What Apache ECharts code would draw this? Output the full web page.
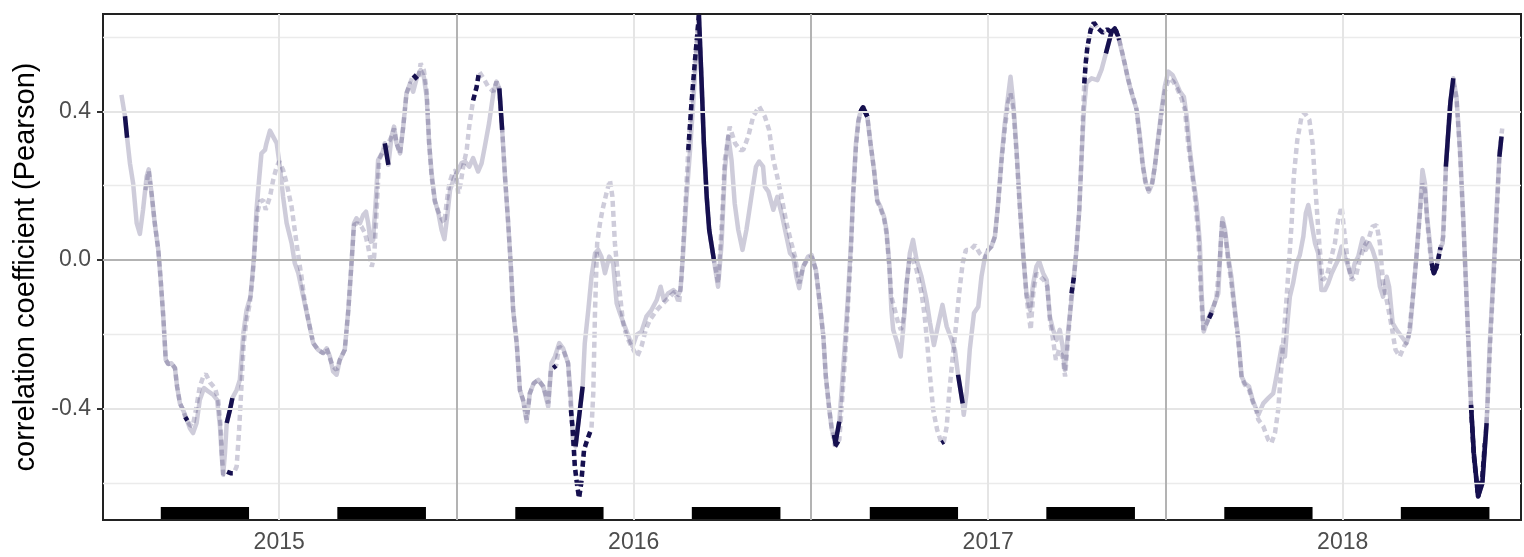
<!DOCTYPE html>
<html>
<head>
<meta charset="utf-8">
<script src="https://cdn.jsdelivr.net/npm/echarts@6/dist/echarts.min.js"></script>
<style>html,body{margin:0;padding:0;background:#fff}#chart{width:1524px;height:557px}</style>
</head>
<body>
<div id="chart"></div>
<script>
// ---- data (decimal years, Pearson r) ----
const solidT = [2014.555,2014.562,2014.565,2014.571,2014.579,2014.588,2014.598,2014.607,2014.616,2014.626,2014.632,2014.640,2014.649,2014.659,2014.665,2014.673,2014.680,2014.687,2014.696,2014.706,2014.712,2014.720,2014.729,2014.739,2014.748,2014.757,2014.767,2014.776,2014.788,2014.800,2014.814,2014.825,2014.833,2014.838,2014.842,2014.847,2014.852,2014.861,2014.868,2014.880,2014.889,2014.899,2014.908,2014.919,2014.929,2014.936,2014.944,2014.950,2014.960,2014.964,2014.974,2014.983,2014.993,2015.002,2015.011,2015.021,2015.035,2015.044,2015.054,2015.068,2015.082,2015.096,2015.110,2015.124,2015.134,2015.143,2015.152,2015.162,2015.171,2015.185,2015.195,2015.204,2015.211,2015.218,2015.228,2015.237,2015.245,2015.251,2015.258,2015.265,2015.272,2015.279,2015.292,2015.298,2015.308,2015.317,2015.324,2015.331,2015.341,2015.350,2015.359,2015.369,2015.378,2015.389,2015.399,2015.408,2015.416,2015.423,2015.430,2015.439,2015.449,2015.458,2015.466,2015.474,2015.482,2015.493,2015.505,2015.514,2015.524,2015.536,2015.547,2015.561,2015.571,2015.580,2015.592,2015.604,2015.613,2015.621,2015.629,2015.637,2015.646,2015.653,2015.660,2015.670,2015.679,2015.688,2015.698,2015.707,2015.718,2015.731,2015.745,2015.759,2015.768,2015.778,2015.790,2015.801,2015.815,2015.822,2015.829,2015.836,2015.846,2015.856,2015.862,2015.872,2015.881,2015.891,2015.900,2015.909,2015.919,2015.931,2015.942,2015.952,2015.961,2015.975,2015.989,2015.997,2016.008,2016.022,2016.036,2016.050,2016.065,2016.076,2016.085,2016.097,2016.112,2016.126,2016.132,2016.140,2016.149,2016.159,2016.168,2016.177,2016.184,2016.191,2016.198,2016.206,2016.213,2016.226,2016.232,2016.238,2016.248,2016.257,2016.267,2016.276,2016.285,2016.295,2016.307,2016.318,2016.332,2016.345,2016.354,2016.365,2016.370,2016.380,2016.394,2016.405,2016.417,2016.431,2016.441,2016.450,2016.459,2016.467,2016.478,2016.492,2016.502,2016.514,2016.525,2016.535,2016.542,2016.552,2016.559,2016.565,2016.569,2016.580,2016.586,2016.596,2016.605,2016.613,2016.619,2016.627,2016.634,2016.640,2016.647,2016.659,2016.668,2016.678,2016.687,2016.696,2016.706,2016.713,2016.721,2016.727,2016.732,2016.741,2016.753,2016.760,2016.770,2016.779,2016.788,2016.798,2016.812,2016.826,2016.836,2016.847,2016.856,2016.871,2016.883,2016.897,2016.906,2016.915,2016.928,2016.931,2016.939,2016.948,2016.960,2016.972,2016.981,2016.991,2017.000,2017.009,2017.019,2017.028,2017.038,2017.047,2017.056,2017.063,2017.071,2017.080,2017.089,2017.099,2017.108,2017.118,2017.127,2017.136,2017.144,2017.155,2017.165,2017.174,2017.183,2017.193,2017.202,2017.210,2017.216,2017.226,2017.240,2017.249,2017.257,2017.263,2017.270,2017.277,2017.292,2017.308,2017.320,2017.332,2017.348,2017.357,2017.367,2017.376,2017.386,2017.395,2017.409,2017.419,2017.428,2017.437,2017.445,2017.453,2017.463,2017.470,2017.480,2017.489,2017.498,2017.508,2017.520,2017.531,2017.541,2017.552,2017.560,2017.569,2017.578,2017.588,2017.597,2017.602,2017.608,2017.616,2017.625,2017.635,2017.649,2017.656,2017.661,2017.668,2017.677,2017.686,2017.696,2017.705,2017.715,2017.724,2017.736,2017.746,2017.757,2017.762,2017.776,2017.790,2017.804,2017.813,2017.828,2017.837,2017.844,2017.851,2017.860,2017.870,2017.879,2017.889,2017.896,2017.903,2017.912,2017.922,2017.931,2017.940,2017.950,2017.959,2017.969,2017.978,2017.987,2017.997,2018.006,2018.016,2018.025,2018.034,2018.044,2018.056,2018.065,2018.075,2018.084,2018.096,2018.105,2018.114,2018.124,2018.131,2018.141,2018.152,2018.166,2018.180,2018.190,2018.199,2018.208,2018.218,2018.225,2018.232,2018.238,2018.246,2018.251,2018.257,2018.265,2018.274,2018.282,2018.288,2018.291,2018.304,2018.312,2018.321,2018.331,2018.340,2018.349,2018.357,2018.362,2018.370,2018.382,2018.394,2018.406,2018.415,2018.425,2018.434,2018.442,2018.448];
const solidV = [0.444,0.404,0.387,0.329,0.260,0.206,0.099,0.070,0.135,0.224,0.244,0.179,0.099,0.027,-0.045,-0.152,-0.269,-0.280,-0.278,-0.291,-0.341,-0.386,-0.404,-0.429,-0.453,-0.466,-0.439,-0.377,-0.345,-0.354,-0.363,-0.377,-0.448,-0.529,-0.578,-0.520,-0.439,-0.404,-0.372,-0.350,-0.323,-0.197,-0.135,-0.099,0.009,0.135,0.224,0.287,0.296,0.314,0.348,0.332,0.314,0.251,0.170,0.099,0.045,-0.009,-0.036,-0.099,-0.161,-0.224,-0.242,-0.251,-0.238,-0.260,-0.300,-0.309,-0.269,-0.242,-0.135,-0.009,0.099,0.112,0.099,0.121,0.130,0.099,0.049,0.054,0.152,0.269,0.291,0.314,0.256,0.332,0.359,0.314,0.287,0.359,0.448,0.475,0.453,0.493,0.511,0.493,0.439,0.314,0.233,0.161,0.126,0.081,0.056,0.117,0.188,0.220,0.242,0.260,0.265,0.251,0.274,0.238,0.260,0.305,0.368,0.448,0.480,0.462,0.350,0.224,0.099,-0.009,-0.135,-0.224,-0.350,-0.377,-0.435,-0.359,-0.332,-0.323,-0.341,-0.395,-0.278,-0.260,-0.224,-0.238,-0.278,-0.359,-0.493,-0.502,-0.422,-0.341,-0.224,-0.135,-0.045,0.018,0.027,0.009,-0.036,0.009,-0.009,-0.117,-0.143,-0.179,-0.215,-0.233,-0.202,-0.193,-0.152,-0.135,-0.108,-0.072,-0.108,-0.090,-0.081,-0.094,-0.081,0.027,0.170,0.296,0.422,0.565,0.659,0.493,0.314,0.170,0.081,0.002,-0.036,-0.072,0.045,0.242,0.332,0.269,0.152,0.081,0.027,0.081,0.170,0.251,0.265,0.251,0.197,0.184,0.135,0.170,0.126,0.063,0.018,0.009,-0.045,-0.076,-0.018,0.009,0.013,-0.027,-0.117,-0.206,-0.314,-0.404,-0.457,-0.471,-0.493,-0.435,-0.359,-0.224,-0.090,0.045,0.179,0.314,0.377,0.399,0.411,0.386,0.314,0.242,0.161,0.143,0.117,0.081,-0.009,-0.135,-0.188,-0.215,-0.260,-0.188,-0.063,0.018,0.054,0.000,-0.045,-0.108,-0.170,-0.229,-0.188,-0.121,-0.179,-0.215,-0.242,-0.309,-0.386,-0.417,-0.359,-0.242,-0.143,-0.126,-0.045,0.009,0.027,0.036,0.063,0.152,0.278,0.368,0.439,0.493,0.422,0.296,0.152,0.010,-0.090,-0.135,-0.063,-0.018,-0.004,-0.036,-0.054,-0.152,-0.188,-0.215,-0.188,-0.233,-0.296,-0.188,-0.063,0.027,0.135,0.269,0.404,0.477,0.489,0.484,0.513,0.556,0.614,0.623,0.601,0.565,0.525,0.484,0.435,0.404,0.332,0.251,0.206,0.184,0.206,0.251,0.332,0.404,0.466,0.507,0.498,0.475,0.453,0.439,0.386,0.296,0.224,0.152,0.045,-0.090,-0.193,-0.170,-0.148,-0.126,-0.090,0.045,0.112,0.081,0.009,-0.045,-0.135,-0.206,-0.314,-0.332,-0.341,-0.377,-0.404,-0.417,-0.386,-0.372,-0.359,-0.314,-0.233,-0.260,-0.170,-0.099,-0.063,-0.009,0.013,0.063,0.126,0.148,0.099,0.045,0.018,-0.081,-0.081,-0.063,-0.036,-0.018,0.000,0.036,0.009,-0.018,-0.045,-0.009,0.009,0.058,0.027,0.045,0.027,-0.009,-0.072,-0.099,-0.045,-0.072,-0.170,-0.188,-0.206,-0.224,-0.188,-0.090,0.009,0.135,0.242,0.206,0.117,0.045,-0.009,-0.036,-0.018,0.027,0.045,0.170,0.251,0.426,0.489,0.439,0.296,0.117,-0.090,-0.269,-0.390,-0.520,-0.637,-0.601,-0.439,-0.224,-0.045,0.135,0.278,0.332];

const dottedT = [2014.623,2014.632,2014.640,2014.649,2014.659,2014.665,2014.673,2014.680,2014.687,2014.696,2014.706,2014.712,2014.720,2014.729,2014.735,2014.741,2014.748,2014.756,2014.765,2014.776,2014.786,2014.793,2014.805,2014.819,2014.828,2014.835,2014.838,2014.842,2014.853,2014.863,2014.872,2014.880,2014.887,2014.894,2014.900,2014.908,2014.917,2014.925,2014.932,2014.938,2014.946,2014.955,2014.962,2014.974,2014.983,2014.993,2015.000,2015.011,2015.021,2015.035,2015.049,2015.057,2015.063,2015.070,2015.082,2015.096,2015.110,2015.124,2015.134,2015.143,2015.152,2015.162,2015.171,2015.185,2015.195,2015.204,2015.211,2015.220,2015.232,2015.242,2015.251,2015.261,2015.268,2015.275,2015.282,2015.292,2015.303,2015.317,2015.324,2015.331,2015.341,2015.350,2015.359,2015.369,2015.378,2015.392,2015.399,2015.408,2015.416,2015.423,2015.430,2015.439,2015.449,2015.458,2015.466,2015.472,2015.480,2015.489,2015.498,2015.505,2015.512,2015.519,2015.529,2015.536,2015.543,2015.547,2015.557,2015.564,2015.576,2015.590,2015.604,2015.613,2015.621,2015.629,2015.637,2015.646,2015.653,2015.660,2015.670,2015.679,2015.688,2015.698,2015.707,2015.718,2015.731,2015.745,2015.759,2015.766,2015.773,2015.781,2015.790,2015.801,2015.815,2015.823,2015.828,2015.834,2015.841,2015.846,2015.852,2015.860,2015.869,2015.881,2015.886,2015.891,2015.897,2015.905,2015.912,2015.923,2015.933,2015.940,2015.947,2015.954,2015.961,2015.970,2015.980,2015.994,2016.010,2016.022,2016.034,2016.046,2016.065,2016.083,2016.102,2016.116,2016.128,2016.135,2016.144,2016.154,2016.163,2016.173,2016.184,2016.191,2016.198,2016.206,2016.213,2016.226,2016.232,2016.238,2016.248,2016.257,2016.271,2016.286,2016.300,2016.309,2016.323,2016.337,2016.354,2016.370,2016.382,2016.394,2016.405,2016.417,2016.431,2016.445,2016.455,2016.467,2016.478,2016.492,2016.502,2016.514,2016.525,2016.535,2016.542,2016.552,2016.559,2016.568,2016.580,2016.586,2016.596,2016.605,2016.613,2016.619,2016.627,2016.634,2016.640,2016.647,2016.659,2016.668,2016.678,2016.687,2016.696,2016.706,2016.713,2016.721,2016.727,2016.737,2016.746,2016.754,2016.762,2016.770,2016.779,2016.788,2016.798,2016.812,2016.821,2016.828,2016.836,2016.845,2016.856,2016.868,2016.875,2016.883,2016.890,2016.899,2016.909,2016.918,2016.928,2016.937,2016.950,2016.963,2016.976,2016.991,2017.000,2017.009,2017.019,2017.028,2017.038,2017.047,2017.056,2017.063,2017.071,2017.080,2017.089,2017.099,2017.108,2017.120,2017.127,2017.136,2017.146,2017.157,2017.167,2017.174,2017.183,2017.191,2017.200,2017.210,2017.217,2017.226,2017.235,2017.242,2017.249,2017.257,2017.263,2017.268,2017.271,2017.275,2017.280,2017.289,2017.298,2017.310,2017.323,2017.336,2017.348,2017.360,2017.370,2017.381,2017.392,2017.404,2017.417,2017.426,2017.435,2017.443,2017.452,2017.462,2017.470,2017.480,2017.489,2017.498,2017.510,2017.522,2017.533,2017.545,2017.555,2017.564,2017.574,2017.583,2017.593,2017.600,2017.607,2017.614,2017.623,2017.632,2017.644,2017.654,2017.660,2017.668,2017.677,2017.686,2017.696,2017.705,2017.715,2017.724,2017.736,2017.746,2017.757,2017.762,2017.776,2017.790,2017.799,2017.809,2017.818,2017.825,2017.832,2017.842,2017.849,2017.856,2017.862,2017.872,2017.884,2017.893,2017.906,2017.915,2017.924,2017.934,2017.943,2017.955,2017.966,2017.978,2017.987,2017.997,2018.006,2018.016,2018.025,2018.037,2018.048,2018.060,2018.072,2018.084,2018.096,2018.105,2018.114,2018.126,2018.138,2018.149,2018.161,2018.173,2018.185,2018.199,2018.208,2018.218,2018.225,2018.232,2018.238,2018.246,2018.252,2018.260,2018.270,2018.276,2018.284,2018.291,2018.302,2018.312,2018.321,2018.331,2018.340,2018.349,2018.357,2018.362,2018.370,2018.382,2018.394,2018.401,2018.408,2018.417,2018.427,2018.436,2018.443,2018.450];
const dottedV = [0.188,0.240,0.179,0.099,0.027,-0.045,-0.152,-0.269,-0.280,-0.278,-0.291,-0.341,-0.386,-0.404,-0.423,-0.432,-0.444,-0.448,-0.404,-0.341,-0.314,-0.307,-0.330,-0.345,-0.377,-0.448,-0.520,-0.578,-0.570,-0.574,-0.574,-0.556,-0.457,-0.332,-0.224,-0.161,-0.117,-0.045,0.045,0.126,0.157,0.161,0.135,0.170,0.215,0.251,0.265,0.242,0.206,0.143,0.045,-0.009,-0.045,-0.099,-0.161,-0.224,-0.242,-0.251,-0.238,-0.265,-0.287,-0.296,-0.269,-0.242,-0.135,-0.009,0.094,0.099,0.090,0.072,0.036,-0.018,0.009,0.135,0.269,0.291,0.305,0.332,0.354,0.314,0.287,0.359,0.448,0.475,0.498,0.484,0.529,0.511,0.457,0.314,0.224,0.157,0.130,0.112,0.099,0.152,0.206,0.233,0.242,0.179,0.206,0.251,0.296,0.359,0.404,0.429,0.466,0.507,0.489,0.466,0.453,0.480,0.457,0.350,0.224,0.099,-0.009,-0.135,-0.224,-0.350,-0.377,-0.430,-0.359,-0.332,-0.323,-0.341,-0.386,-0.296,-0.291,-0.285,-0.233,-0.242,-0.278,-0.404,-0.457,-0.556,-0.610,-0.641,-0.601,-0.511,-0.484,-0.453,-0.359,-0.135,0.045,0.099,0.135,0.179,0.215,0.170,0.045,-0.027,-0.090,-0.170,-0.206,-0.233,-0.260,-0.233,-0.188,-0.161,-0.135,-0.117,-0.099,-0.085,-0.117,-0.045,0.117,0.296,0.422,0.538,0.659,0.493,0.314,0.170,0.081,0.000,-0.027,-0.063,0.090,0.269,0.359,0.314,0.296,0.296,0.332,0.386,0.413,0.386,0.350,0.269,0.224,0.170,0.099,0.045,0.009,-0.063,-0.018,0.004,0.009,-0.027,-0.117,-0.206,-0.314,-0.404,-0.457,-0.502,-0.484,-0.404,-0.269,-0.117,0.027,0.170,0.305,0.372,0.399,0.411,0.386,0.314,0.242,0.157,0.139,0.112,0.072,-0.018,-0.099,-0.135,-0.170,-0.188,-0.152,-0.063,0.009,0.000,-0.027,-0.090,-0.152,-0.224,-0.314,-0.404,-0.457,-0.493,-0.489,-0.448,-0.359,-0.269,-0.179,-0.090,-0.009,0.027,0.027,0.040,0.018,0.004,0.027,0.036,0.063,0.148,0.269,0.354,0.422,0.448,0.404,0.287,0.143,0.018,-0.099,-0.188,-0.090,-0.036,-0.045,-0.054,-0.072,-0.161,-0.215,-0.269,-0.242,-0.260,-0.314,-0.206,-0.090,-0.045,0.027,0.135,0.269,0.404,0.475,0.529,0.574,0.619,0.639,0.623,0.612,0.621,0.612,0.619,0.592,0.547,0.498,0.453,0.413,0.341,0.260,0.211,0.188,0.206,0.251,0.327,0.395,0.453,0.489,0.480,0.462,0.435,0.404,0.314,0.242,0.170,0.063,-0.090,-0.188,-0.175,-0.157,-0.139,-0.099,0.009,0.108,0.072,0.000,-0.063,-0.143,-0.215,-0.318,-0.336,-0.350,-0.381,-0.408,-0.430,-0.448,-0.484,-0.493,-0.466,-0.404,-0.314,-0.224,-0.099,0.000,0.099,0.224,0.323,0.386,0.395,0.377,0.314,0.179,0.045,-0.054,-0.045,0.000,0.045,0.108,0.143,0.063,-0.018,-0.054,-0.045,0.000,0.036,0.054,0.090,0.094,0.045,-0.063,-0.117,-0.179,-0.242,-0.260,-0.233,-0.215,-0.090,0.009,0.126,0.206,0.188,0.108,0.027,-0.022,-0.036,0.004,0.034,0.063,0.242,0.413,0.480,0.435,0.287,0.108,-0.099,-0.278,-0.395,-0.529,-0.637,-0.583,-0.493,-0.404,-0.206,-0.027,0.152,0.296,0.354];

// periods where the correlation is highlighted (start, end in decimal years)
const solidHighlight = [[2014.565,2014.571],[2014.852,2014.868],[2015.298,2015.308],[2015.621,2015.629],[2015.836,2015.856],[2016.184,2016.226],[2016.565,2016.580],[2016.640,2016.659],[2016.915,2016.928],[2017.332,2017.367],[2018.251,2018.265],[2018.291,2018.312],[2018.362,2018.406],[2018.442,2018.448]];
const dottedHighlight = [[2014.735,2014.741],[2014.853,2014.872],[2015.378,2015.392],[2015.547,2015.564],[2015.773,2015.781],[2015.823,2015.881],[2016.154,2016.184],[2016.568,2016.580],[2016.640,2016.659],[2016.868,2016.875],[2017.235,2017.242],[2017.271,2017.370],[2017.623,2017.632],[2018.252,2018.276],[2018.362,2018.401]];

// seasons shown as black bars (SON and MAM)
const seasonStart = [2014.666,2015.164,2015.666,2016.164,2016.666,2017.164,2017.666,2018.164];
const seasonEnd   = [2014.915,2015.414,2015.915,2016.414,2016.915,2017.414,2017.915,2018.414];
const BAR_LOW = -0.697, BAR_HIGH = -0.665;

// axes
const xTicks = [2015, 2016, 2017, 2018];
const xHalfYears = [2015.5, 2016.5, 2017.5];
const yTicks = [-0.4, 0.0, 0.4];
const yMinor = [-0.6, -0.2, 0.2, 0.6];
const X_MIN = 2014.503, X_MAX = 2018.503, Y_MIN = -0.70, Y_MAX = 0.662;

const NAVY = '#16104f';
const FONT = 'Liberation Sans, Arial, Helvetica, sans-serif';

function pairs(T, V) { return T.map((t, i) => [t, V[i]]); }
function highlight(T, V, ranges) {
  return T.map((t, i) => ranges.some(r => t >= r[0] - 1e-4 && t <= r[1] + 1e-4) ? [t, V[i]] : [t, null]);
}

const gridLines = [];
yMinor.forEach(v => gridLines.push({ yAxis: v, lineStyle: { color: '#ebebeb', width: 1.3, type: 'solid' } }));
yTicks.filter(v => v !== 0).forEach(v => gridLines.push({ yAxis: v, lineStyle: { color: '#e5e5e5', width: 2, type: 'solid' } }));
xTicks.forEach(v => gridLines.push({ xAxis: v, lineStyle: { color: '#e5e5e5', width: 2, type: 'solid' } }));
const refLines = [{ yAxis: 0, lineStyle: { color: '#b3b3b3', width: 2, type: 'solid' } }];
xHalfYears.forEach(v => refLines.push({ xAxis: v, lineStyle: { color: '#b3b3b3', width: 2, type: 'solid' } }));

const chart = echarts.init(document.getElementById('chart'), null, { renderer: 'canvas' });
chart.setOption({
  animation: false,
  backgroundColor: '#ffffff',
  grid: { left: 103, right: 3, top: 14, bottom: 37, show: true, borderColor: '#222222', borderWidth: 2, backgroundColor: 'transparent', containLabel: false },
  xAxis: {
    type: 'value', min: X_MIN, max: X_MAX,
    splitLine: { show: false }, axisLine: { show: false },
    axisTick: { show: true, customValues: xTicks, length: 6, lineStyle: { color: '#333', width: 2 } },
    axisLabel: { customValues: xTicks, formatter: v => String(Math.round(v)), color: '#4d4d4d', fontSize: 23, fontFamily: FONT, margin: 11 }
  },
  yAxis: {
    type: 'value', min: Y_MIN, max: Y_MAX,
    splitLine: { show: false }, axisLine: { show: false },
    axisTick: { show: true, customValues: yTicks, length: 6, lineStyle: { color: '#333', width: 2 } },
    axisLabel: { customValues: yTicks, formatter: v => v.toFixed(1), color: '#4d4d4d', fontSize: 23, fontFamily: FONT, margin: 12 },
    name: 'correlation coefficient (Pearson)', nameLocation: 'middle', nameGap: 60,
    nameTextStyle: { fontSize: 29, color: '#000', fontFamily: FONT }
  },
  series: [
    { type: 'line', data: [], z: 1, silent: true,
      markLine: { silent: true, symbol: ['none', 'none'], label: { show: false }, animation: false, data: gridLines } },
    { type: 'line', data: [], z: 2, silent: true,
      markLine: { silent: true, symbol: ['none', 'none'], label: { show: false }, animation: false, data: refLines } },
    { name: 'solid', type: 'line', data: pairs(solidT, solidV), showSymbol: false, z: 3, silent: true,
      lineStyle: { color: NAVY, width: 4.5, opacity: 0.21, cap: 'butt', join: 'round' } },
    { name: 'dotted', type: 'line', data: pairs(dottedT, dottedV), showSymbol: false, z: 3, silent: true,
      lineStyle: { color: NAVY, width: 4.5, opacity: 0.21, type: [6, 4], cap: 'butt' } },
    { name: 'solidHL', type: 'line', data: highlight(solidT, solidV, solidHighlight), showSymbol: false, connectNulls: false, z: 4, silent: true,
      lineStyle: { color: NAVY, width: 4.5, opacity: 1, cap: 'butt', join: 'round' } },
    { name: 'dottedHL', type: 'line', data: highlight(dottedT, dottedV, dottedHighlight), showSymbol: false, connectNulls: false, z: 4, silent: true,
      lineStyle: { color: NAVY, width: 4.5, opacity: 1, type: [6, 4], cap: 'butt' } },
    { type: 'line', data: [], z: 5, silent: true,
      markArea: { silent: true, itemStyle: { color: '#000', opacity: 1 }, label: { show: false },
        data: seasonStart.map((s, i) => [{ xAxis: s, yAxis: BAR_LOW }, { xAxis: seasonEnd[i], yAxis: BAR_HIGH }]) } }
  ]
});
</script>
</body>
</html>
